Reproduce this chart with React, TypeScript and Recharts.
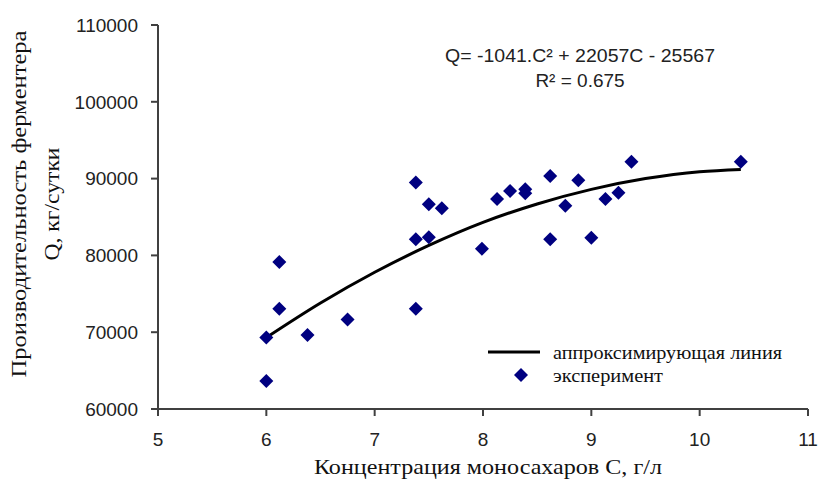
import React from 'react';
import { ScatterChart, Scatter, XAxis, YAxis } from 'recharts';

// концентрация моносахаров, г/л
const concentration = [
  6.0, 6.0, 6.12, 6.12, 6.38, 6.75, 7.38, 7.38, 7.38, 7.5, 7.5, 7.62, 7.99,
  8.13, 8.25, 8.39, 8.39, 8.62, 8.62, 8.76, 8.88, 9.0, 9.13, 9.25, 9.37, 10.38,
];
// производительность, кг/сутки
const productivity = [
  69300, 63650, 79150, 73050, 69650, 71650, 89500, 82100, 73050, 86650, 82350,
  86150, 80850, 87350, 88400, 88600, 88100, 90350, 82100, 86450, 89800, 82300,
  87350, 88150, 92200, 92200,
];

// аппроксимирующая линия
const trendC = [6.0, 6.5, 7.0, 7.5, 8.0, 8.5, 9.0, 9.5, 10.0, 10.38];
const trendQ = [69300, 73800, 77800, 81300, 84300, 86700, 88600, 90000, 90900, 91200];

const xTicks = [5, 6, 7, 8, 9, 10, 11];
const yTicks = [60000, 70000, 80000, 90000, 100000, 110000];

const points = concentration.map((c, i) => ({ c, q: productivity[i] }));
const trend = trendC.map((c, i) => ({ c, q: trendQ[i] }));

const NAVY = '#000080';
const AXIS = '#404040';
const sans = '"Liberation Sans", Arial, sans-serif';
const serif = '"Liberation Serif", "Times New Roman", serif';

const Diamond = (props: any) => {
  const { cx, cy } = props;
  if (cx == null || cy == null) return <g />;
  const r = 7;
  return (
    <polygon
      points={`${cx},${cy - r} ${cx + r},${cy} ${cx},${cy + r} ${cx - r},${cy}`}
      fill={NAVY}
    />
  );
};

const NoDot = () => <g />;

export default function App() {
  const tickStyle = { fontFamily: sans, fontSize: 19, fill: '#222' };

  return (
    <div
      style={{
        position: 'absolute',
        left: 0,
        top: 0,
        width: 820,
        height: 483,
        background: '#fff',
      }}
    >
      <ScatterChart
        width={820}
        height={483}
        margin={{ top: 25, right: 12, bottom: 44, left: 88 }}
      >
        <XAxis
          type="number"
          dataKey="c"
          domain={[5, 11]}
          ticks={xTicks}
          allowDataOverflow
          height={30}
          tickSize={7}
          tickMargin={17}
          tick={tickStyle}
          axisLine={{ stroke: AXIS, strokeWidth: 2 }}
          tickLine={{ stroke: AXIS, strokeWidth: 2 }}
        />
        <YAxis
          type="number"
          dataKey="q"
          domain={[60000, 110000]}
          ticks={yTicks}
          allowDataOverflow
          width={70}
          tickSize={7}
          tickMargin={13}
          tick={tickStyle}
          axisLine={{ stroke: AXIS, strokeWidth: 2 }}
          tickLine={{ stroke: AXIS, strokeWidth: 2 }}
        />
        <Scatter
          data={trend}
          line={{ stroke: '#000', strokeWidth: 3 }}
          lineJointType="monotoneX"
          shape={NoDot}
          isAnimationActive={false}
        />
        <Scatter data={points} shape={Diamond} fill={NAVY} isAnimationActive={false} />
      </ScatterChart>

      <svg
        width={820}
        height={483}
        style={{ position: 'absolute', left: 0, top: 0, pointerEvents: 'none' }}
      >
        {/* уравнение регрессии */}
        <text
          x={580}
          y={55}
          textAnchor="middle"
          dominantBaseline="central"
          fontFamily={sans}
          fontSize={19}
          fill="#222"
          textLength={270}
          lengthAdjust="spacingAndGlyphs"
        >
          Q= -1041.C² + 22057C - 25567
        </text>
        <text
          x={580}
          y={80}
          textAnchor="middle"
          dominantBaseline="central"
          fontFamily={sans}
          fontSize={19}
          fill="#222"
        >
          R² = 0.675
        </text>

        {/* подписи осей */}
        <text
          x={488}
          y={467}
          textAnchor="middle"
          dominantBaseline="central"
          fontFamily={serif}
          fontSize={21}
          fill="#111"
          textLength={348}
          lengthAdjust="spacingAndGlyphs"
        >
          Концентрация моносахаров С, г/л
        </text>
        <text
          transform="translate(19,204) rotate(-90)"
          textAnchor="middle"
          dominantBaseline="central"
          fontFamily={serif}
          fontSize={21}
          fill="#111"
          textLength={347}
          lengthAdjust="spacingAndGlyphs"
        >
          Производительность ферментера
        </text>
        <text
          transform="translate(52,204) rotate(-90)"
          textAnchor="middle"
          dominantBaseline="central"
          fontFamily={serif}
          fontSize={21}
          fill="#111"
          textLength={113}
          lengthAdjust="spacingAndGlyphs"
        >
          Q, кг/сутки
        </text>

        {/* легенда */}
        <line x1={488} y1={352} x2={540} y2={352} stroke="#000" strokeWidth={3} />
        <text
          x={553}
          y={352}
          dominantBaseline="central"
          fontFamily={serif}
          fontSize={19}
          fill="#111"
          textLength={229}
          lengthAdjust="spacingAndGlyphs"
        >
          аппроксимирующая линия
        </text>
        <polygon points="521,368 528,375 521,382 514,375" fill={NAVY} />
        <text
          x={553}
          y={375}
          dominantBaseline="central"
          fontFamily={serif}
          fontSize={19}
          fill="#111"
          textLength={110}
          lengthAdjust="spacingAndGlyphs"
        >
          эксперимент
        </text>
      </svg>
    </div>
  );
}
